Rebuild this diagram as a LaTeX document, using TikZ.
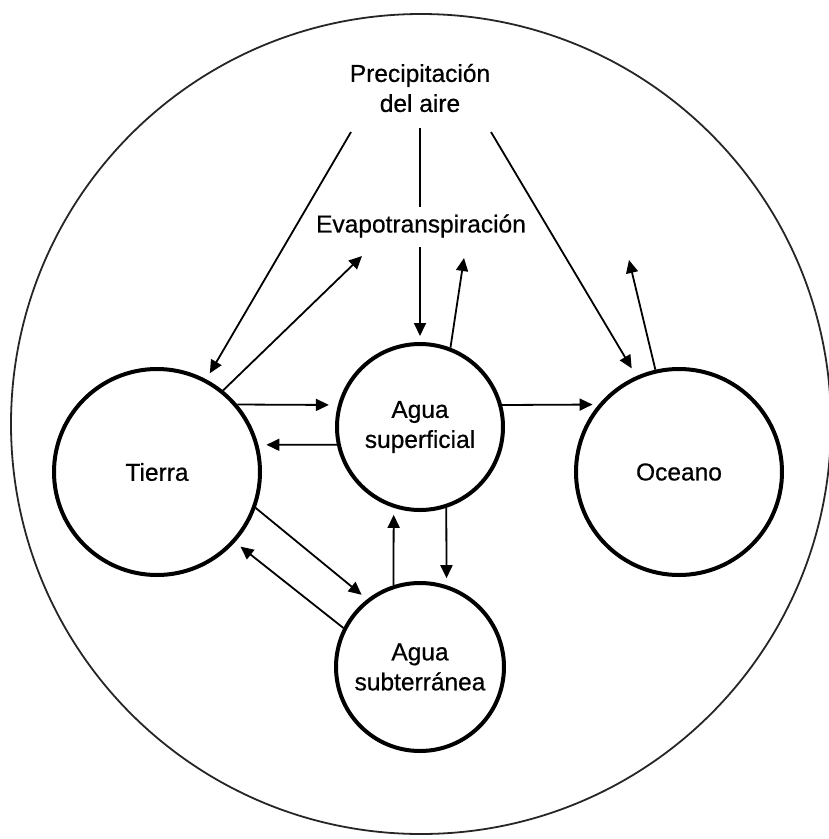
\documentclass[tikz,border=0pt]{standalone}
\usepackage{fontspec}
\setmainfont[FakeBold=0.6]{Liberation Sans}
\usetikzlibrary{arrows.meta}
\begin{document}
\begin{tikzpicture}[x=1pt,y=-1pt,
  lbl/.style={font=\fontsize{24.5}{30}\selectfont, align=center, inner sep=0pt},
  bigc/.style={circle, draw, line width=4pt, inner sep=0pt, lbl},
  flow/.style={line width=1.8pt, -{Triangle[length=13pt,width=12pt]}},
  plain/.style={line width=1.8pt}]
\useasboundingbox (0,0) rectangle (829,839);
\node[circle, draw=black!85, line width=1.8pt, minimum size=820pt, inner sep=0pt] (ciclo) at (421,424) {};

\node[bigc, minimum size=206pt] (tierra) at (157,472) {Tierra};
\node[bigc, minimum size=166pt] (asup) at (420,427) {Agua\\superficial};
\node[bigc, minimum size=206pt] (ocean) at (679,472) {Oceano};
\node[bigc, minimum size=168pt] (asubt) at (420,667) {Agua\\subterránea};
\node[lbl] (precip) at (420,88) {Precipitación\\del aire};
\node[lbl] (evap) at (421,226) {Evapotranspiración};

\coordinate (evL) at (362,256);
\coordinate (evM) at (464,258);
\coordinate (evR) at (629,260);

\draw[flow, shorten >=7pt] ([xshift=-69pt,yshift=-44pt]precip.center) -- (tierra.62);
\draw[flow] (tierra.51) -- (evL);
\draw[plain] ([yshift=-40pt]precip.center) -- ([xshift=-1pt,yshift=19pt]evap.center);
\draw[flow, shorten >=6pt] ([xshift=-1pt,yshift=-21pt]evap.center) -- (asup.north);
\draw[flow] (asup.69) -- (evM);
\draw[flow, shorten >=9pt] ([xshift=71pt,yshift=-44pt]precip.center) -- (ocean.114);
\draw[flow] (ocean.103) -- (evR);
\draw[flow, shorten >=9pt] (tierra.40) -- (asup.165);
\draw[flow, shorten >=8pt] (asup.192) -- (tierra.15);
\draw[flow, shorten >=6pt] (asup.15) -- (ocean.140);
\draw[flow, shorten >=7pt] (tierra.-20) -- (asubt.128);
\draw[flow, shorten >=7pt] (asubt.153) -- (tierra.-42);
\draw[flow, shorten >=7pt] (asubt.108) -- (asup.252);
\draw[flow, shorten >=7pt] (asup.288) -- (asubt.72);
\end{tikzpicture}
\end{document}
